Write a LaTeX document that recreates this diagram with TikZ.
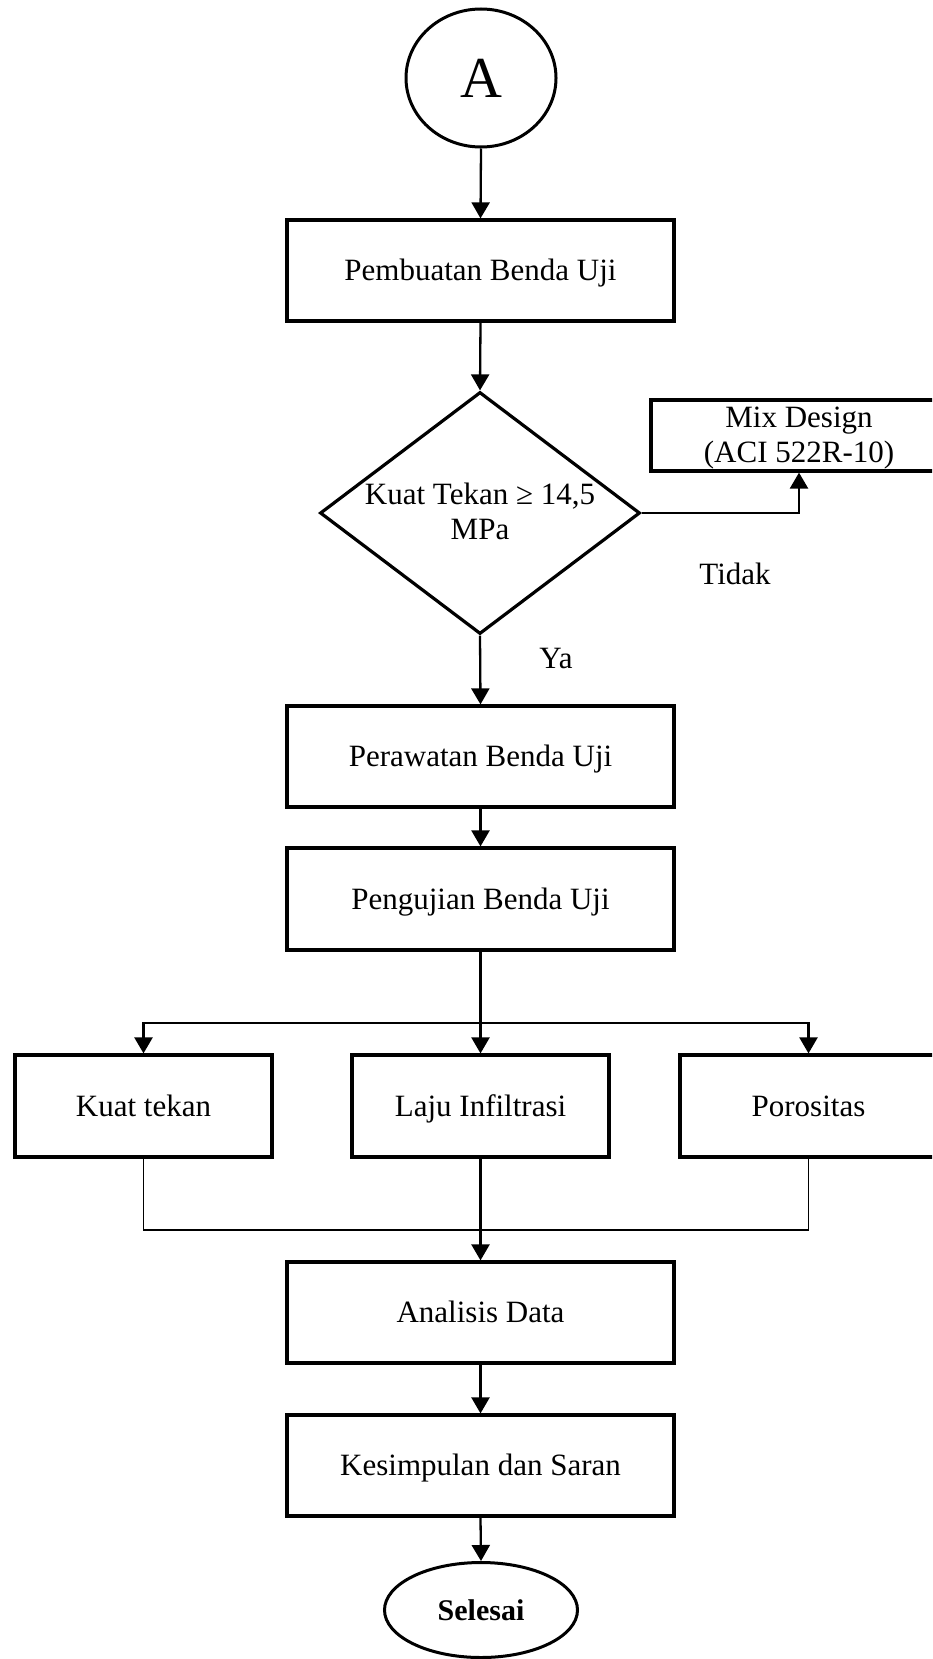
\documentclass[tikz,border=0pt]{standalone}
\usepackage{fontspec}
\setmainfont{Liberation Serif}
\usetikzlibrary{arrows.meta,shapes.geometric}
\tikzset{
  box/.style={draw, line width=3.2pt, minimum width=387pt, minimum height=101pt, inner sep=0pt, font=\fontsize{31}{35}\selectfont, align=center, text height=23pt, text depth=3pt},
  sbox/.style={box, minimum width=257pt, minimum height=102pt},
  conn/.style={line width=2.3pt},
  arr/.style={conn, -{Triangle[width=18pt,length=16pt]}},
  joinline/.style={line width=1.7pt},
  lbl/.style={font=\fontsize{31}{35}\selectfont, inner sep=0pt}
}
\begin{document}
\begin{tikzpicture}[x=1pt,y=-1pt]
\useasboundingbox (0,0) rectangle (932,1659);
\clip (0,0) rectangle (932,1659);
\node[draw, ellipse, line width=3pt, minimum width=150pt, minimum height=138pt, inner sep=0pt, font=\fontsize{58}{60}\selectfont] (A) at (481,78) {A};
\node[box] (pemb) at (480.5,270.5) {Pembuatan Benda Uji};
\node[draw, diamond, line width=3.2pt, minimum width=320pt, minimum height=242pt, inner sep=0pt] (dia) at (480,513) {};
\node[lbl, align=center] (diatext) at (480,511) {Kuat Tekan ≥ 14,5\\MPa};
\node[draw, line width=3.2pt, minimum width=296pt, minimum height=71pt, inner sep=0pt] (mix) at (799,435.5) {};
\node[lbl, align=center] (mixtext) at (799,438.5) {Mix Design\\(ACI 522R-10)};
\node[lbl] (tidak) at (735,574) {Tidak};
\node[lbl] (ya) at (556,658) {Ya};
\node[box] (pera) at (480.5,756.5) {Perawatan Benda Uji};
\node[box, minimum height=102pt] (peng) at (480.5,899) {Pengujian Benda Uji};
\node[sbox] (kuat) at (143.5,1106) {Kuat tekan};
\node[sbox] (laju) at (480.5,1106) {Laju Infiltrasi};
\node[sbox] (poro) at (808.5,1106) {Porositas};
\node[box] (anal) at (480.5,1312.5) {Analisis Data};
\node[box] (kesi) at (480.5,1465.5) {Kesimpulan dan Saran};
\node[draw, ellipse, line width=3pt, minimum width=193pt, minimum height=95pt, inner sep=0pt, font=\bfseries\fontsize{30}{34}\selectfont] (sel) at (481,1610) {Selesai};
\coordinate (split) at (480.5,1023);
\coordinate (merge) at (480.5,1230);
\draw[arr] (A.south) -- (pemb.north);
\draw[arr] (pemb.south) -- (dia.north);
\draw[arr] (dia.east) -| (mix.south);
\draw[arr] (dia.south) -- (pera.north);
\draw[arr] (pera.south) -- (peng.north);
\draw[arr] (peng.south) -- (laju.north);
\draw[arr] (split) -| (kuat.north);
\draw[arr] (split) -| (poro.north);
\draw[joinline] (kuat.south) |- (merge);
\draw[joinline] (poro.south) |- (merge);
\draw[arr] (laju.south) -- (anal.north);
\draw[arr] (anal.south) -- (kesi.north);
\draw[arr] (kesi.south) -- (sel.north);
\end{tikzpicture}
\end{document}
